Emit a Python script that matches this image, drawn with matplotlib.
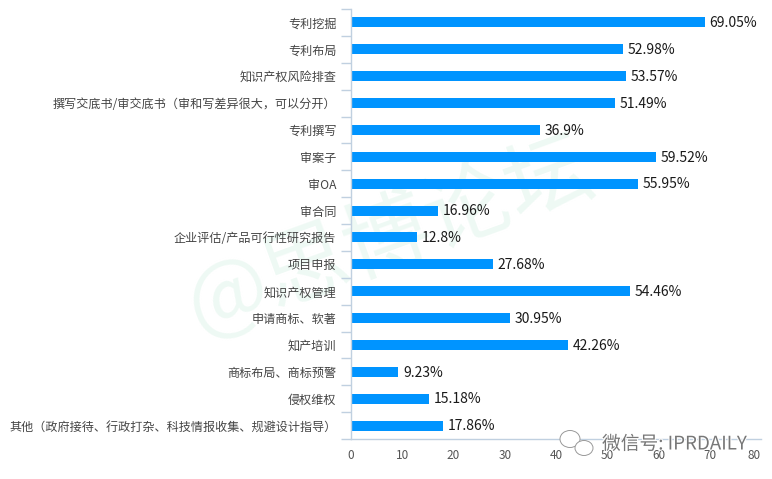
import matplotlib
matplotlib.use('Agg')
import matplotlib.pyplot as plt
import matplotlib.patheffects as pe
from matplotlib.patches import Ellipse

plt.rcParams['font.family'] = ['Noto Sans CJK SC', 'DejaVu Sans']

categories = ['专利挖掘', '专利布局', '知识产权风险排查',
              '撰写交底书/审交底书（审和写差异很大，可以分开）', '专利撰写', '审案子', '审OA',
              '审合同', '企业评估/产品可行性研究报告', '项目申报', '知识产权管理',
              '申请商标、软著', '知产培训', '商标布局、商标预警', '侵权维权',
              '其他（政府接待、行政打杂、科技情报收集、规避设计指导）']
values = [69.05, 52.98, 53.57, 51.49, 36.9, 59.52, 55.95, 16.96, 12.8, 27.68,
          54.46, 30.95, 42.26, 9.23, 15.18, 17.86]
value_labels = ['69.05%', '52.98%', '53.57%', '51.49%', '36.9%', '59.52%', '55.95%', '16.96%',
                '12.8%', '27.68%', '54.46%', '30.95%', '42.26%', '9.23%', '15.18%', '17.86%']
x_ticks = [0, 10, 20, 30, 40, 50, 60, 70, 80]

W, H = 772, 479
fig = plt.figure(figsize=(W / 100, H / 100), dpi=100)
ax = fig.add_axes([351 / W, 1 - 439 / H, (761 - 351) / W, (439 - 9) / H])
ax.set_zorder(2)
ax.patch.set_alpha(0)

# 水印放在最底层
fig.text(390 / W, 1 - 238 / H, '@思博论坛', fontsize=62, color='#eef9f4', rotation=20,
         ha='center', va='center', zorder=0)

pos = list(range(len(categories)))
ax.barh(pos, values, height=0.37, color='#0094ff', zorder=2)
ax.set_xlim(0, 80)
ax.set_ylim(len(categories) - 0.5, -0.5)

for p, v, t in zip(pos, values, value_labels):
    ax.annotate(t, (v, p), xytext=(3.5, -0.5), textcoords='offset points', va='center',
                fontsize=10, color='#1a1a1a')

for s in ['top', 'right']:
    ax.spines[s].set_visible(False)
for s in ['left', 'bottom']:
    ax.spines[s].set_color('#c0d0e0')
    ax.spines[s].set_linewidth(1)

# y 轴刻度在类别之间
ax.set_yticks([p - 0.5 for p in pos] + [len(pos) - 0.5])
ax.tick_params(axis='y', length=7.2, width=1, color='#c0d0e0', labelleft=False)
ax.set_yticks(pos, minor=True)
ax.set_yticklabels(categories, minor=True, fontsize=8.7, color='#444444')
ax.tick_params(axis='y', which='minor', length=0, pad=10.5)

ax.set_xticks(x_ticks)
ax.tick_params(axis='x', length=0, pad=7, labelsize=8.5, labelcolor='#555555')
ax.get_xticklabels()[-1].set_ha('right')

# 微信水印
halo = [pe.withStroke(linewidth=1.5, foreground='white')]
fig.text(602 / W, 1 - 444 / H, '微信号: IPRDAILY', fontsize=13.5, color='#777777',
         va='center', ha='left', zorder=5, path_effects=halo)
for cx, cy, w, h in [(570, 439, 20, 17), (584, 448, 18, 15)]:
    fig.add_artist(Ellipse((cx / W, 1 - cy / H), w / W, h / H, transform=fig.transFigure,
                           facecolor='white', edgecolor='#999999', linewidth=0.7, zorder=5))

fig.savefig('out.png', dpi=100)
